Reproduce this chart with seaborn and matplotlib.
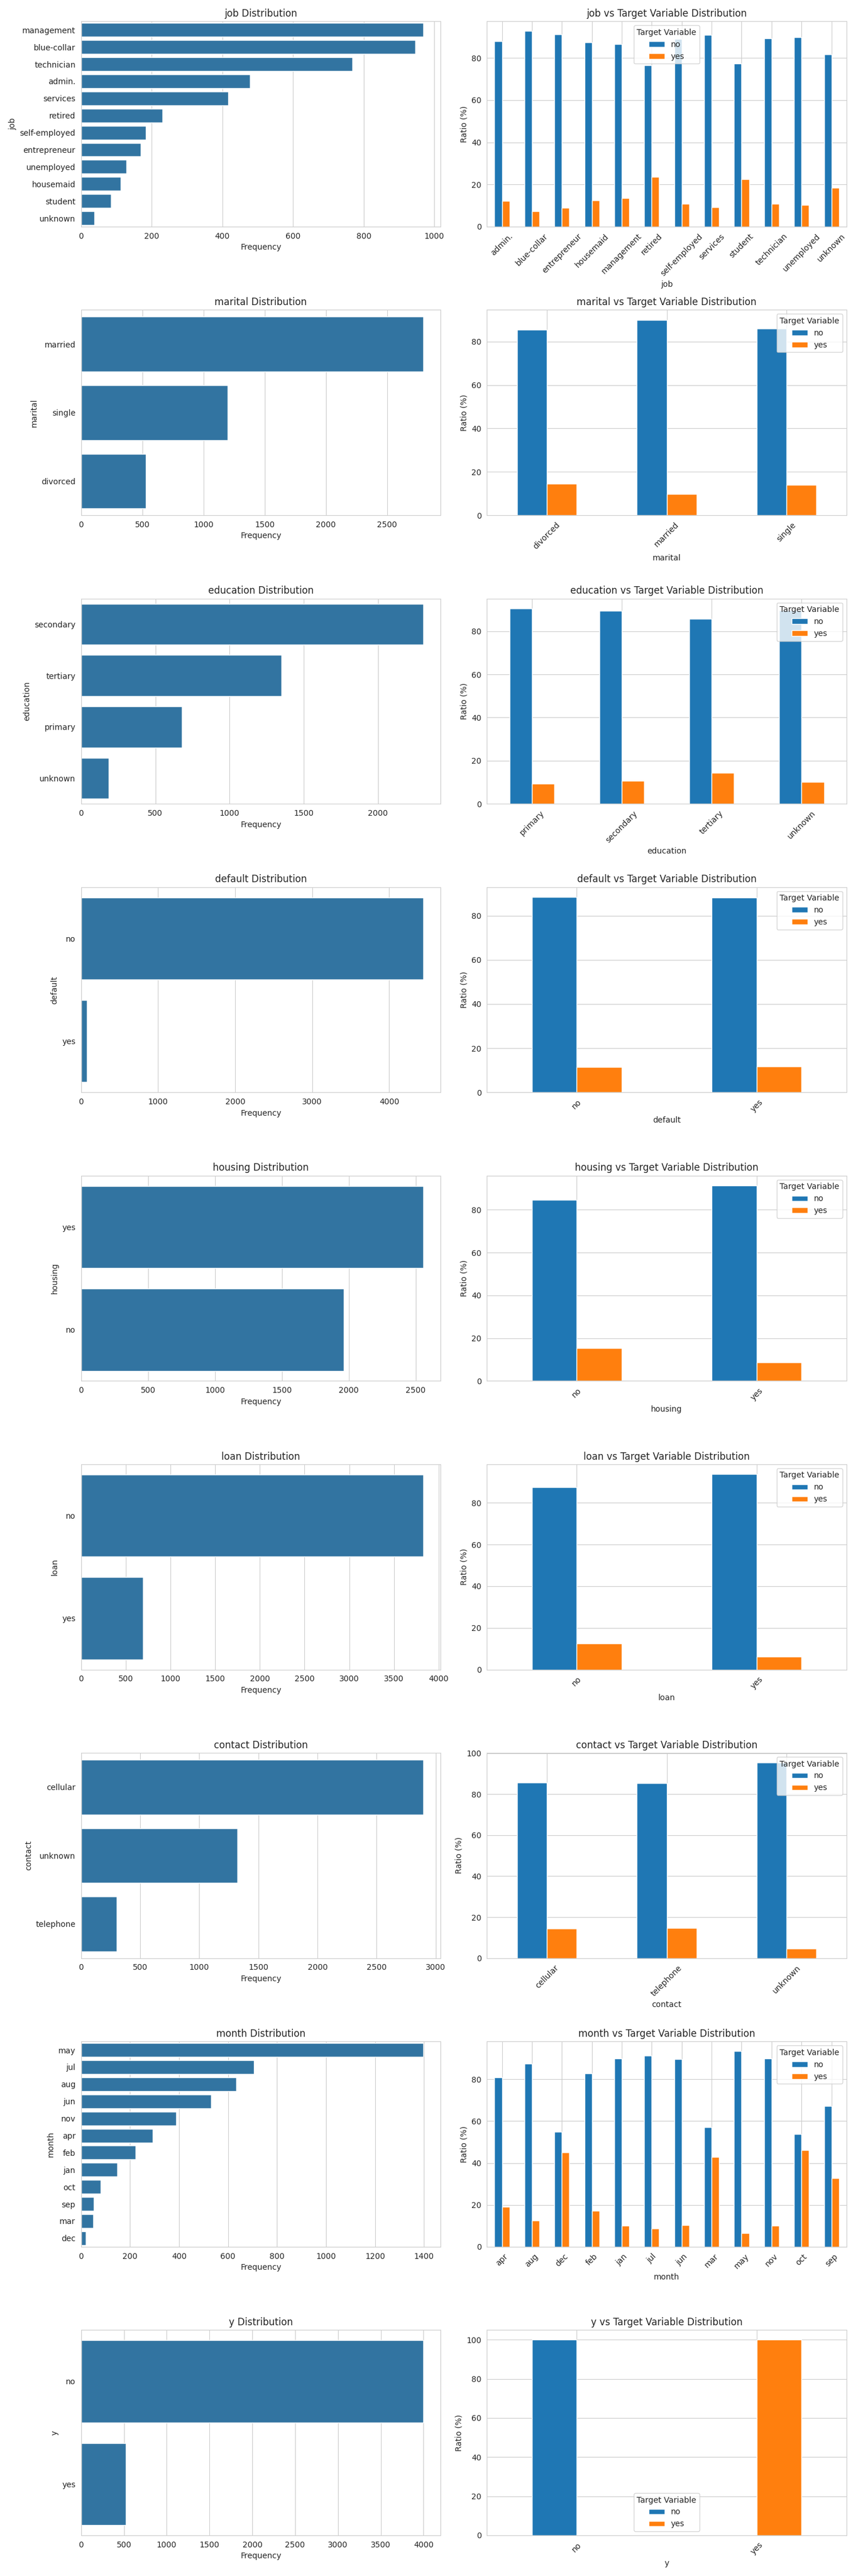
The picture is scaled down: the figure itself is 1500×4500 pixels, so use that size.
import pandas as pd
import matplotlib
matplotlib.use("Agg")
import matplotlib.pyplot as plt
import seaborn as sns
sns.set_style("whitegrid")

# counts per category (sorted by frequency) and share of "yes" per category (alphabetical)
job = ['management', 'blue-collar', 'technician', 'admin.', 'services', 'retired', 'self-employed',
       'entrepreneur', 'unemployed', 'housemaid', 'student', 'unknown']
job_n = [969, 946, 768, 478, 417, 230, 183, 168, 128, 112, 84, 38]
job_yes = {'admin.': 12.1, 'blue-collar': 7.3, 'entrepreneur': 8.9, 'housemaid': 12.5, 'management': 13.5,
           'retired': 23.5, 'self-employed': 10.9, 'services': 9.1, 'student': 22.6, 'technician': 10.8,
           'unemployed': 10.2, 'unknown': 18.4}

marital = ['married', 'single', 'divorced']
marital_n = [2797, 1196, 528]
marital_yes = {'divorced': 14.6, 'married': 9.9, 'single': 14.0}

education = ['secondary', 'tertiary', 'primary', 'unknown']
education_n = [2306, 1350, 678, 187]
education_yes = {'primary': 9.4, 'secondary': 10.6, 'tertiary': 14.3, 'unknown': 10.2}

default = ['no', 'yes']
default_n = [4445, 76]
default_yes = {'no': 11.5, 'yes': 11.8}

housing = ['yes', 'no']
housing_n = [2559, 1962]
housing_yes = {'no': 15.3, 'yes': 8.6}

loan = ['no', 'yes']
loan_n = [3830, 691]
loan_yes = {'no': 12.5, 'yes': 6.2}

contact = ['cellular', 'unknown', 'telephone']
contact_n = [2896, 1324, 301]
contact_yes = {'cellular': 14.4, 'telephone': 14.6, 'unknown': 4.6}

month = ['may', 'jul', 'aug', 'jun', 'nov', 'apr', 'feb', 'jan', 'oct', 'sep', 'mar', 'dec']
month_n = [1398, 706, 633, 531, 389, 293, 222, 148, 80, 52, 49, 20]
month_yes = {'apr': 19.1, 'aug': 12.5, 'dec': 45.0, 'feb': 17.1, 'jan': 10.1, 'jul': 8.6, 'jun': 10.4,
             'mar': 42.9, 'may': 6.6, 'nov': 10.0, 'oct': 46.2, 'sep': 32.7}

y = ['no', 'yes']
y_n = [4000, 521]
y_yes = {'no': 0.0, 'yes': 100.0}

cols = [('job', job, job_n, job_yes), ('marital', marital, marital_n, marital_yes),
        ('education', education, education_n, education_yes), ('default', default, default_n, default_yes),
        ('housing', housing, housing_n, housing_yes), ('loan', loan, loan_n, loan_yes),
        ('contact', contact, contact_n, contact_yes), ('month', month, month_n, month_yes),
        ('y', y, y_n, y_yes)]

fig, axes = plt.subplots(len(cols), 2, figsize=(15, 45))
for i, (name, cats, counts, yes) in enumerate(cols):
    ax = axes[i, 0]
    sns.barplot(x=counts, y=cats, color='C0', ax=ax)
    ax.set_title(f'{name} Distribution')
    ax.set_xlabel('Frequency')
    ax.set_ylabel(name)

    ax = axes[i, 1]
    keys = sorted(yes)
    ct = pd.DataFrame({'no': [100 - yes[k] for k in keys], 'yes': [yes[k] for k in keys]}, index=keys)
    ct.index.name = name
    ct.plot(kind='bar', ax=ax, rot=45)
    ax.set_title(f'{name} vs Target Variable Distribution')
    ax.set_ylabel('Ratio (%)')
    ax.legend(title='Target Variable')

plt.tight_layout()
plt.savefig('out.png', dpi=100)
